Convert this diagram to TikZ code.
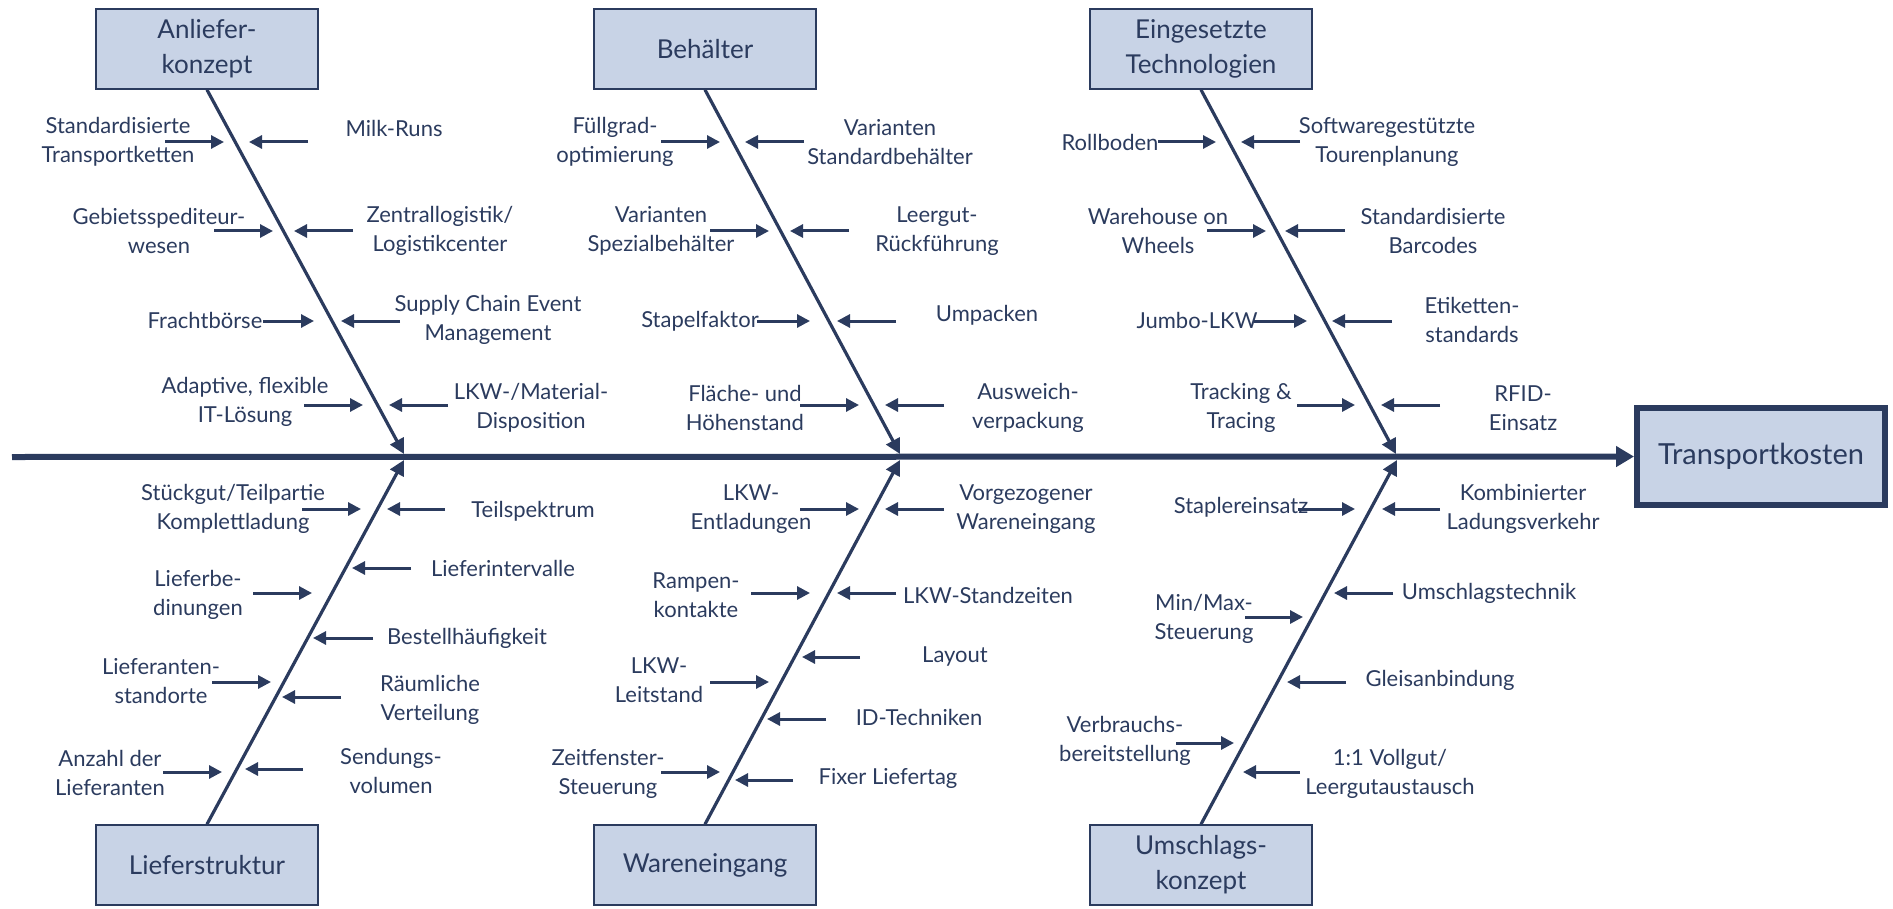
\documentclass[tikz,border=0pt]{standalone}
\usepackage{fontspec}
\setmainfont{Lato}
\usetikzlibrary{arrows.meta}

\definecolor{navy}{HTML}{2B3B5E}
\definecolor{boxfill}{HTML}{C8D3E6}

\tikzset{
  catbox/.style={draw=navy, fill=boxfill, line width=0.8pt, minimum width=111pt,
    minimum height=40pt, inner sep=0pt, align=center, text=navy,
    font=\fontsize{13}{17.5}\selectfont},
  cause/.style={text=navy, align=center, inner sep=0pt,
    font=\fontsize{11}{14.5}\selectfont},
  spine/.style={draw=navy, line width=3pt, -{Triangle[length=9pt,width=10pt]}},
  bone/.style={draw=navy, line width=1.6pt, -{Triangle[length=7.5pt,width=7.5pt]}},
  hint/.style={draw=navy, line width=1.5pt, -{Triangle[length=6.5pt,width=6.5pt]}},
}

\begin{document}
\begin{tikzpicture}[x=0.5pt, y=-0.5pt]
\useasboundingbox (0,0) rectangle (1893,909);

% categories
\node[catbox] (anl) at (207,49) {Anliefer-\\konzept};
\node[catbox] (beh) at (705,49) {Behälter};
\node[catbox] (tech) at (1201,49) {Eingesetzte\\Technologien};
\node[catbox] (lief) at (207,865) {Lieferstruktur};
\node[catbox] (we) at (705,865) {Wareneingang};
\node[catbox] (ums) at (1201,865) {Umschlags-\\konzept};
\node[catbox, line width=3pt, minimum width=124pt, minimum height=48.5pt,
  font=\fontsize{14.5}{17.5}\selectfont] (tk) at (1761,456.5) {Transportkosten};

% spine and bones
\coordinate (tail) at (12,457);
\draw[spine] (tail) -- (tk);
\coordinate (j1) at (404,454);
\coordinate (j2) at (900,454);
\coordinate (j3) at (1396,454);
\coordinate (k1) at (404,460);
\coordinate (k2) at (900,460);
\coordinate (k3) at (1397,460);
\draw[bone] (anl.south) -- (j1);
\draw[bone] (beh.south) -- (j2);
\draw[bone] (tech.south) -- (j3);
\draw[bone] (lief.north) -- (k1);
\draw[bone] (we.north) -- (k2);
\draw[bone] (ums.north) -- (k3);

% Anlieferkonzept
\node[cause] (anl1) at (118,142) {Standardisierte\\Transportketten};
\node[cause] (anl2) at (394,128) {Milk-Runs};
\node[cause] (anl3) at (159,231) {Gebietsspediteur-\\wesen};
\node[cause] (anl4) at (440,231) {Zentrallogistik/\\Logistikcenter};
\node[cause] (anl5) at (205,320) {Frachtbörse};
\node[cause] (anl6) at (488,320) {Supply Chain Event\\Management};
\node[cause] (anl7) at (245,402) {Adaptive, flexible\\IT-Lösung};
\node[cause] (anl8) at (531,408) {LKW-/Material-\\Disposition};
\coordinate (anl1s) at (165,142); \coordinate (anl1e) at (224,142);
\coordinate (anl2s) at (308,142); \coordinate (anl2e) at (249,142);
\coordinate (anl3s) at (214,231); \coordinate (anl3e) at (273,231);
\coordinate (anl4s) at (353,231); \coordinate (anl4e) at (294,231);
\coordinate (anl5s) at (263,321); \coordinate (anl5e) at (314,321);
\coordinate (anl6s) at (400,321); \coordinate (anl6e) at (341,321);
\coordinate (anl7s) at (304,405); \coordinate (anl7e) at (363,405);
\coordinate (anl8s) at (448,405); \coordinate (anl8e) at (389,405);
\draw[hint] (anl1s) -- (anl1e);
\draw[hint] (anl2s) -- (anl2e);
\draw[hint] (anl3s) -- (anl3e);
\draw[hint] (anl4s) -- (anl4e);
\draw[hint] (anl5s) -- (anl5e);
\draw[hint] (anl6s) -- (anl6e);
\draw[hint] (anl7s) -- (anl7e);
\draw[hint] (anl8s) -- (anl8e);

% Behaelter
\node[cause] (beh1) at (615,142) {Füllgrad-\\optimierung};
\node[cause] (beh2) at (890,142) {Varianten\\Standardbehälter};
\node[cause] (beh3) at (661,231) {Varianten\\Spezialbehälter};
\node[cause] (beh4) at (937,231) {Leergut-\\Rückführung};
\node[cause] (beh5) at (700,321) {Stapelfaktor};
\node[cause] (beh6) at (987,315) {Umpacken};
\node[cause] (beh7) at (745,408) {Fläche- und\\Höhenstand};
\node[cause] (beh8) at (1028,408) {Ausweich-\\verpackung};
\coordinate (beh1s) at (661,142); \coordinate (beh1e) at (720,142);
\coordinate (beh2s) at (804,142); \coordinate (beh2e) at (745,142);
\coordinate (beh3s) at (710,231); \coordinate (beh3e) at (769,231);
\coordinate (beh4s) at (849,231); \coordinate (beh4e) at (790,231);
\coordinate (beh5s) at (757,321); \coordinate (beh5e) at (810,321);
\coordinate (beh6s) at (896,321); \coordinate (beh6e) at (837,321);
\coordinate (beh7s) at (800,405); \coordinate (beh7e) at (859,405);
\coordinate (beh8s) at (944,405); \coordinate (beh8e) at (885,405);
\draw[hint] (beh1s) -- (beh1e);
\draw[hint] (beh2s) -- (beh2e);
\draw[hint] (beh3s) -- (beh3e);
\draw[hint] (beh4s) -- (beh4e);
\draw[hint] (beh5s) -- (beh5e);
\draw[hint] (beh6s) -- (beh6e);
\draw[hint] (beh7s) -- (beh7e);
\draw[hint] (beh8s) -- (beh8e);

% Eingesetzte Technologien
\node[cause] (tech1) at (1110,142) {Rollboden};
\node[cause] (tech2) at (1387,142) {Softwaregestützte\\Tourenplanung};
\node[cause] (tech3) at (1158,231) {Warehouse on\\Wheels};
\node[cause] (tech4) at (1433,231) {Standardisierte\\Barcodes};
\node[cause] (tech5) at (1197,320) {Jumbo-LKW};
\node[cause] (tech6) at (1472,320) {Etiketten-\\standards};
\node[cause] (tech7) at (1241,408) {Tracking \&\\Tracing};
\node[cause] (tech8) at (1523,408) {RFID-\\Einsatz};
\coordinate (tech1s) at (1158,142); \coordinate (tech1e) at (1216,142);
\coordinate (tech2s) at (1300,142); \coordinate (tech2e) at (1241,142);
\coordinate (tech3s) at (1207,231); \coordinate (tech3e) at (1266,231);
\coordinate (tech4s) at (1345,231); \coordinate (tech4e) at (1285,231);
\coordinate (tech5s) at (1254,321); \coordinate (tech5e) at (1307,321);
\coordinate (tech6s) at (1392,321); \coordinate (tech6e) at (1332,321);
\coordinate (tech7s) at (1297,405); \coordinate (tech7e) at (1355,405);
\coordinate (tech8s) at (1440,405); \coordinate (tech8e) at (1381,405);
\draw[hint] (tech1s) -- (tech1e);
\draw[hint] (tech2s) -- (tech2e);
\draw[hint] (tech3s) -- (tech3e);
\draw[hint] (tech4s) -- (tech4e);
\draw[hint] (tech5s) -- (tech5e);
\draw[hint] (tech6s) -- (tech6e);
\draw[hint] (tech7s) -- (tech7e);
\draw[hint] (tech8s) -- (tech8e);

% Lieferstruktur
\node[cause] (lief1) at (233,509) {Stückgut/Teilpartie\\Komplettladung};
\node[cause] (lief2) at (533,511) {Teilspektrum};
\node[cause] (lief3) at (503,568) {Lieferintervalle};
\node[cause] (lief4) at (198,595) {Lieferbe-\\dinungen};
\node[cause] (lief5) at (467,638) {Bestellhäufigkeit};
\node[cause] (lief6) at (161,681) {Lieferanten-\\standorte};
\node[cause] (lief7) at (430,700) {Räumliche\\Verteilung};
\node[cause] (lief8) at (110,773) {Anzahl der\\Lieferanten};
\node[cause] (lief9) at (391,771) {Sendungs-\\volumen};
\coordinate (lief1s) at (302,509); \coordinate (lief1e) at (361,509);
\coordinate (lief2s) at (445,509); \coordinate (lief2e) at (387,509);
\coordinate (lief3s) at (411,568); \coordinate (lief3e) at (352,568);
\coordinate (lief4s) at (253,593); \coordinate (lief4e) at (312,593);
\coordinate (lief5s) at (373,638); \coordinate (lief5e) at (313,638);
\coordinate (lief6s) at (212,682); \coordinate (lief6e) at (271,682);
\coordinate (lief7s) at (341,697); \coordinate (lief7e) at (282,697);
\coordinate (lief8s) at (163,772); \coordinate (lief8e) at (222,772);
\coordinate (lief9s) at (303,769); \coordinate (lief9e) at (245,769);
\draw[hint] (lief1s) -- (lief1e);
\draw[hint] (lief2s) -- (lief2e);
\draw[hint] (lief3s) -- (lief3e);
\draw[hint] (lief4s) -- (lief4e);
\draw[hint] (lief5s) -- (lief5e);
\draw[hint] (lief6s) -- (lief6e);
\draw[hint] (lief7s) -- (lief7e);
\draw[hint] (lief8s) -- (lief8e);
\draw[hint] (lief9s) -- (lief9e);

% Wareneingang
\node[cause] (we1) at (751,509) {LKW-\\Entladungen};
\node[cause] (we2) at (1026,509) {Vorgezogener\\Wareneingang};
\node[cause] (we3) at (696,595) {Rampen-\\kontakte};
\node[cause] (we4) at (988,595) {LKW-Standzeiten};
\node[cause] (we5) at (955,656) {Layout};
\node[cause] (we6) at (659,680) {LKW-\\Leitstand};
\node[cause] (we7) at (919,717) {ID-Techniken};
\node[cause] (we8) at (608,774) {Zeitfenster-\\Steuerung};
\node[cause] (we9) at (888,778) {Fixer Liefertag};
\coordinate (we1s) at (800,509); \coordinate (we1e) at (859,509);
\coordinate (we2s) at (944,509); \coordinate (we2e) at (885,509);
\coordinate (we3s) at (751,593); \coordinate (we3e) at (810,593);
\coordinate (we4s) at (896,593); \coordinate (we4e) at (837,593);
\coordinate (we5s) at (860,657); \coordinate (we5e) at (802,657);
\coordinate (we6s) at (710,682); \coordinate (we6e) at (769,682);
\coordinate (we7s) at (826,719); \coordinate (we7e) at (767,719);
\coordinate (we8s) at (661,772); \coordinate (we8e) at (720,772);
\coordinate (we9s) at (793,780); \coordinate (we9e) at (735,780);
\draw[hint] (we1s) -- (we1e);
\draw[hint] (we2s) -- (we2e);
\draw[hint] (we3s) -- (we3e);
\draw[hint] (we4s) -- (we4e);
\draw[hint] (we5s) -- (we5e);
\draw[hint] (we6s) -- (we6e);
\draw[hint] (we7s) -- (we7e);
\draw[hint] (we8s) -- (we8e);
\draw[hint] (we9s) -- (we9e);

% Umschlagskonzept
\node[cause] (ums1) at (1241,507) {Staplereinsatz};
\node[cause] (ums2) at (1523,509) {Kombinierter\\Ladungsverkehr};
\node[cause] (ums3) at (1489,593) {Umschlagstechnik};
\node[cause] (ums4) at (1204,619) {Min/Max-\\Steuerung};
\node[cause] (ums5) at (1440,680) {Gleisanbindung};
\node[cause] (ums6) at (1125,741) {Verbrauchs-\\bereitstellung};
\node[cause] (ums7) at (1390,774) {1:1 Vollgut/\\Leergutaustausch};
\coordinate (ums1s) at (1298,509); \coordinate (ums1e) at (1355,509);
\coordinate (ums2s) at (1440,509); \coordinate (ums2e) at (1382,509);
\coordinate (ums3s) at (1393,593); \coordinate (ums3e) at (1334,593);
\coordinate (ums4s) at (1245,617); \coordinate (ums4e) at (1303,617);
\coordinate (ums5s) at (1346,682); \coordinate (ums5e) at (1287,682);
\coordinate (ums6s) at (1176,743); \coordinate (ums6e) at (1234,743);
\coordinate (ums7s) at (1300,772); \coordinate (ums7e) at (1243,772);
\draw[hint] (ums1s) -- (ums1e);
\draw[hint] (ums2s) -- (ums2e);
\draw[hint] (ums3s) -- (ums3e);
\draw[hint] (ums4s) -- (ums4e);
\draw[hint] (ums5s) -- (ums5e);
\draw[hint] (ums6s) -- (ums6e);
\draw[hint] (ums7s) -- (ums7e);
\end{tikzpicture}
\end{document}
